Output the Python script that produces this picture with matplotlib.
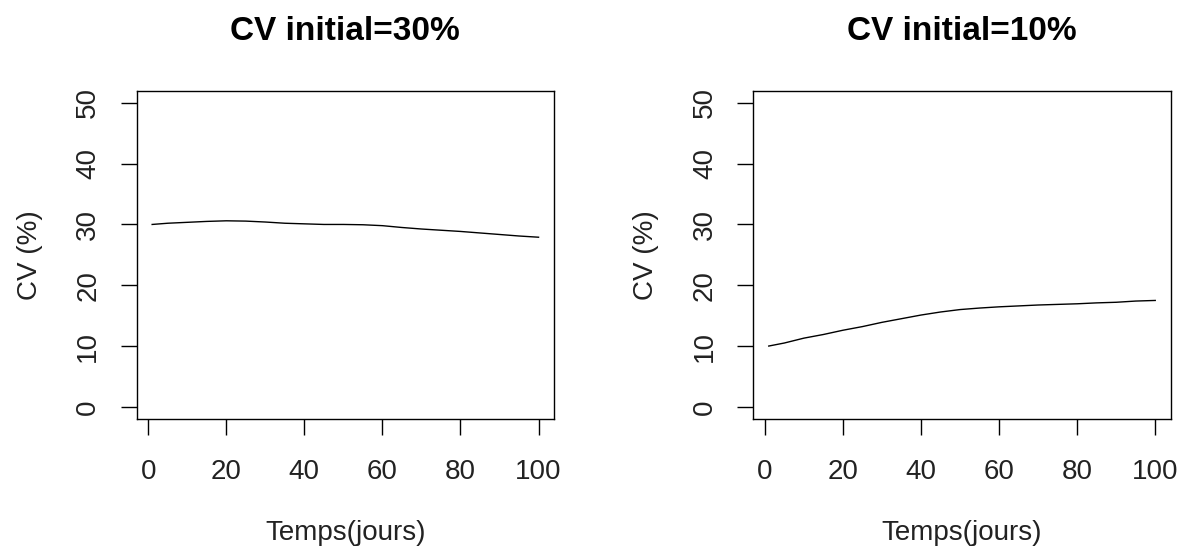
# CV over time for two initial CV values, R base-graphics look
import matplotlib
matplotlib.use('Agg')
import matplotlib.pyplot as plt

plt.rcParams['font.family'] = ['Liberation Sans', 'DejaVu Sans']

# data (every 5 days)
jours = [1, 5, 10, 15, 20, 25, 30, 35, 40, 45, 50, 55, 60, 65, 70, 75, 80, 85, 90, 95, 100]
cv30 = [30.0, 30.2, 30.35, 30.5, 30.6, 30.55, 30.4, 30.2, 30.1, 30.0, 30.0,
        29.95, 29.8, 29.5, 29.25, 29.05, 28.85, 28.6, 28.35, 28.1, 27.9]
cv10 = [10.0, 10.5, 11.3, 11.9, 12.6, 13.2, 13.9, 14.5, 15.1, 15.6, 16.0,
        16.25, 16.45, 16.6, 16.75, 16.85, 16.95, 17.1, 17.2, 17.4, 17.5]
titres = ['CV initial=30%', 'CV initial=10%']
xticks = [0, 20, 40, 60, 80, 100]
yticks = [0, 10, 20, 30, 40, 50]

fig = plt.figure(figsize=(11.83, 5.48), dpi=100)
W, H = 1183, 548
boxes = [(136.7, 554.0), (753.3, 1170.7)]
top, bottom = 90.7, 419.0
txt = '#222222'

for (x0, x1), y, titre in zip(boxes, [cv30, cv10], titres):
    ax = fig.add_axes([x0 / W, 1 - bottom / H, (x1 - x0) / W, (bottom - top) / H])
    ax.plot(jours, y, color='black', lw=1.0)
    ax.set_xlim(-2.96, 103.96)
    ax.set_ylim(-2, 52)
    ax.set_xticks(xticks)
    ax.set_yticks(yticks)
    ax.tick_params(direction='out', length=11.5, width=1.0, labelsize=20, colors='black', labelcolor=txt)
    ax.tick_params(axis='x', pad=17)
    ax.tick_params(axis='y', pad=14)
    for lab in ax.get_yticklabels():
        lab.set_rotation(90)
        lab.set_va('center')
    for s in ax.spines.values():
        s.set_linewidth(1.0)
    ax.set_title(titre, fontsize=24, fontweight='bold', pad=0, y=1 + (top - 32) / (bottom - top), va='center')
    ax.set_xlabel('Temps(jours)', fontsize=20, va='center', color=txt)
    ax.xaxis.set_label_coords(0.5, -(533 - bottom) / (bottom - top))
    ax.set_ylabel('CV (%)', fontsize=20, va='center', color=txt)
    ax.yaxis.set_label_coords(-107 / (x1 - x0), 0.5)

fig.savefig('out.png', dpi=100)
